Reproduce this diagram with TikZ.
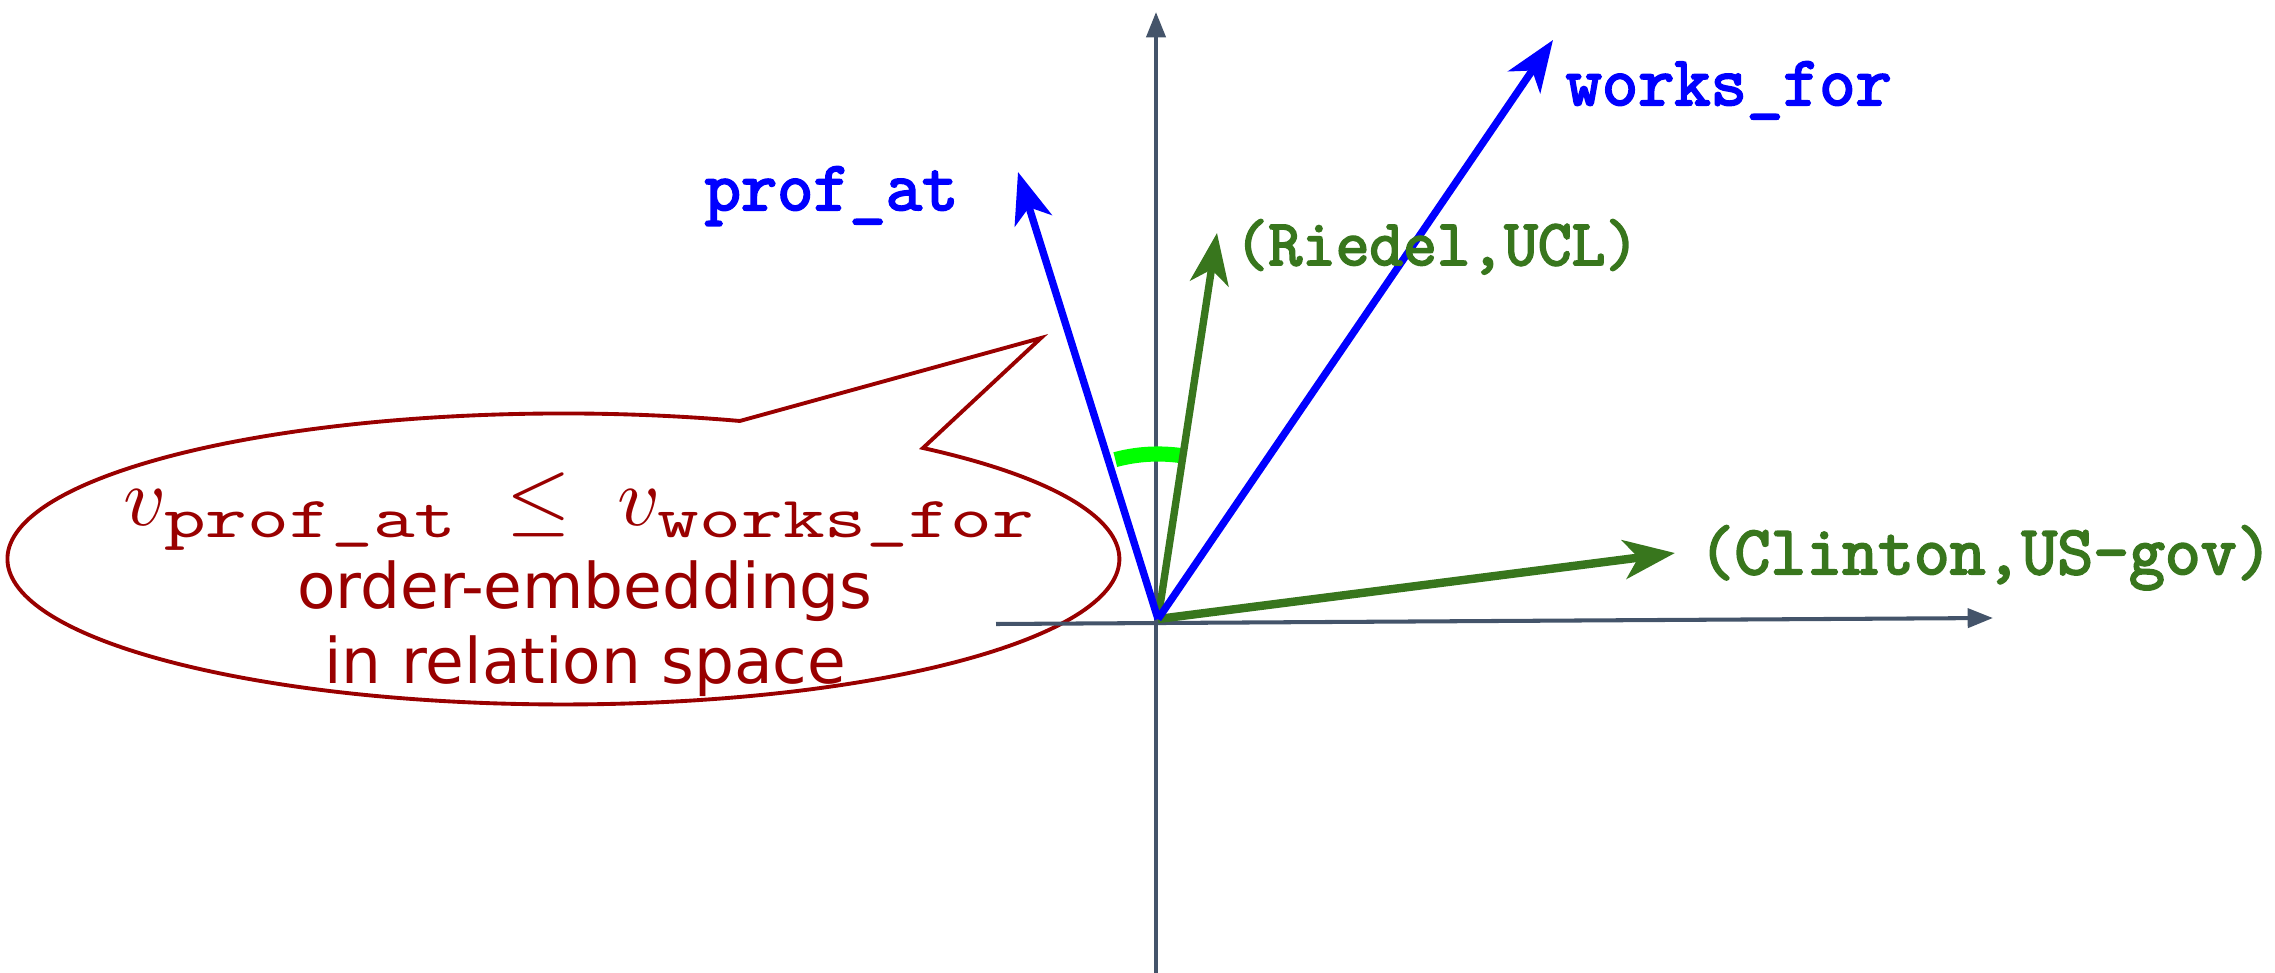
\documentclass[tikz,border=0pt]{standalone}
\usepackage{fontspec}
\usepackage{graphicx}
\newfontfamily\dvsans{DejaVu Sans}
\newfontfamily\monob{Latin Modern Mono}[FakeBold=3]
\usetikzlibrary{arrows.meta}
\definecolor{axisc}{HTML}{44546A}
\definecolor{vblue}{RGB}{0,0,255}
\definecolor{vgreen}{HTML}{38761D}
\definecolor{cred}{HTML}{990000}
\definecolor{arcg}{RGB}{0,255,0}
\tikzset{
  axisline/.style={draw=axisc, line width=1.15pt, -{Triangle[length=7.2pt,width=5.4pt]}},
  relvec/.style={draw=vblue, line width=2.1pt, -{Stealth[length=14.5pt,width=11pt,inset=4pt]}},
  pairvec/.style={draw=vgreen, line width=2.1pt, -{Stealth[length=14.5pt,width=11pt,inset=4pt]}},
  rellabel/.style={text=vblue, inner sep=0pt, anchor=base west, font=\monob\fontsize{20pt}{24pt}\selectfont},
  pairlabel/.style={text=vgreen, inner sep=0pt, anchor=base west, font=\monob\fontsize{19.8pt}{24pt}\selectfont},
  calltext/.style={text=cred, inner sep=0pt, anchor=base, font=\dvsans\fontsize{17.9pt}{21pt}\selectfont},
}
\newcommand{\subtt}[1]{\scalebox{0.959}[0.7]{\fontsize{10pt}{12pt}\selectfont\ttfamily #1}}
\begin{document}
\begin{tikzpicture}[x=0.01cm, y=-0.01cm]
\useasboundingbox (0,0) rectangle (2275,973);
% callout
\draw[cred, line width=1.1pt, line join=miter]
  (923,448) arc[start angle=-49.7, end angle=288.5, x radius=556, y radius=145.5]
  -- (1041,338) -- cycle;
\node[text=cred, inner sep=0pt, anchor=base] (ineq) at (581,525)
  {\scalebox{2.36}{$v_{\subtt{prof\_at}}\;\le\;v_{\subtt{works\_for}}$}};
\node[calltext] (l1) at (585,608) {order-embeddings};
\node[calltext] (l2) at (585,683) {in relation space};
% axes
\coordinate (xs) at (996,624);
\coordinate (xe) at (1993,618);
\coordinate (ys) at (1156,973);
\coordinate (ye) at (1156,12);
\draw[axisline] (xs) -- (xe);
\draw[axisline] (ys) -- (ye);
% vectors
\coordinate (O) at (1158,619);
\coordinate (P) at (1018,172);
\coordinate (W) at (1553,40);
\coordinate (R) at (1217,233);
\coordinate (C) at (1675,553);
\draw[arcg, line width=4.3pt] ([shift={(-105:165)}]O) arc[start angle=-105, end angle=-82, radius=165];
\draw[pairvec] (O) -- (R);
\draw[pairvec, line width=2.4pt] (O) -- (C);
\draw[relvec] (O) -- (P);
\draw[relvec] (O) -- (W);
% labels
\node[rellabel] (lp) at (704,210) {prof\_at};
\node[rellabel] (lw) at (1565,105) {works\_for};
\node[pairlabel, font=\monob\fontsize{18.6pt}{22pt}\selectfont] (lr) at (1234,265) {(Riedel,UCL)};
\node[pairlabel] (lc) at (1698,574) {(Clinton,US-gov)};
\end{tikzpicture}
\end{document}
